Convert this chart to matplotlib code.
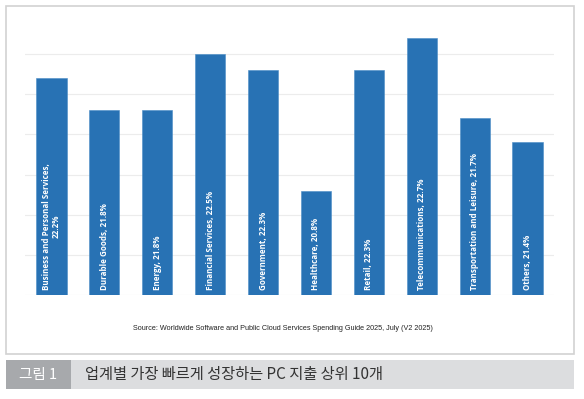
import matplotlib.pyplot as plt
from matplotlib.patches import Rectangle

# industries and growth (CAGR %)
industries = ["Business and Personal Services,\n", "Durable Goods, ", "Energy, ", "Financial Services, ",
              "Government, ", "Healthcare, ", "Retail, ", "Telecommunications, ",
              "Transportation and Leisure, ", "Others, "]
growth = [22.2, 21.8, 21.8, 22.5, 22.3, 20.8, 22.3, 22.7, 21.7, 21.4]
grid_levels = [20.0, 20.5, 21.0, 21.5, 22.0, 22.5]

source = "Source: Worldwide Software and Public Cloud Services Spending Guide 2025, July (V2 2025)"
fig_no = "그림 1"
caption = "업계별 가장 빠르게 성장하는 PC 지출 상위 10개"

W, H = 584, 399
fig = plt.figure(figsize=(W / 100, H / 100), dpi=100)
fig.patch.set_facecolor("white")


def px(x0, y0, x1, y1):
    # pixel box (top-left origin) -> figure fraction rect
    return [x0 / W, 1 - y1 / H, (x1 - x0) / W, (y1 - y0) / H]


# outer frame around the chart
fig.patches.append(Rectangle((6 / W, 1 - 354 / H), 568 / W, 348 / H, transform=fig.transFigure,
                             fill=False, edgecolor="#d2d2d2", linewidth=1.2))

ax = fig.add_axes(px(25, 22, 554, 295))
base = 19.5
xs = range(len(growth))
ax.bar(xs, [g - base for g in growth], bottom=base, width=0.57, color="#2872b4",
       edgecolor="#4a8cc6", linewidth=0.4, zorder=3)
for y in grid_levels:
    ax.axhline(y, color="#ececec", linewidth=0.8, zorder=1)
ax.axhline(base, color="#ececec", linewidth=0.8, zorder=1)
ax.set_xlim(-0.5, 9.5)
ax.set_ylim(base, 22.9)
ax.axis("off")

for i, (name, g) in enumerate(zip(industries, growth)):
    ax.text(i, base + 0.06, "%s%.1f%%" % (name, g), rotation=90, ha="center", va="bottom",
            multialignment="center", color="white", fontsize=5.8, fontweight="bold",
            family=["Open Sans", "DejaVu Sans"], linespacing=1.1, zorder=4)

fig.text(283 / W, 1 - 329 / H, source, ha="center", va="center", fontsize=5.2,
         family=["Liberation Sans Narrow", "Liberation Sans"], color="#222222")

# caption bar
fig.patches.append(Rectangle((6 / W, 1 - 389 / H), 65 / W, 29 / H, transform=fig.transFigure,
                             facecolor="#a7a9ac", edgecolor="none"))
fig.patches.append(Rectangle((71 / W, 1 - 389 / H), 503 / W, 29 / H, transform=fig.transFigure,
                             facecolor="#dcdddf", edgecolor="none"))
fig.text(38 / W, 1 - 375 / H, fig_no, ha="center", va="center", color="white", fontsize=10.5,
         family=["Noto Sans CJK KR", "DejaVu Sans"])
fig.text(85 / W, 1 - 375 / H, caption, ha="left", va="center", color="#333333", fontsize=11,
         family=["Noto Sans CJK KR", "DejaVu Sans"])

fig.savefig("out.png", dpi=100)
